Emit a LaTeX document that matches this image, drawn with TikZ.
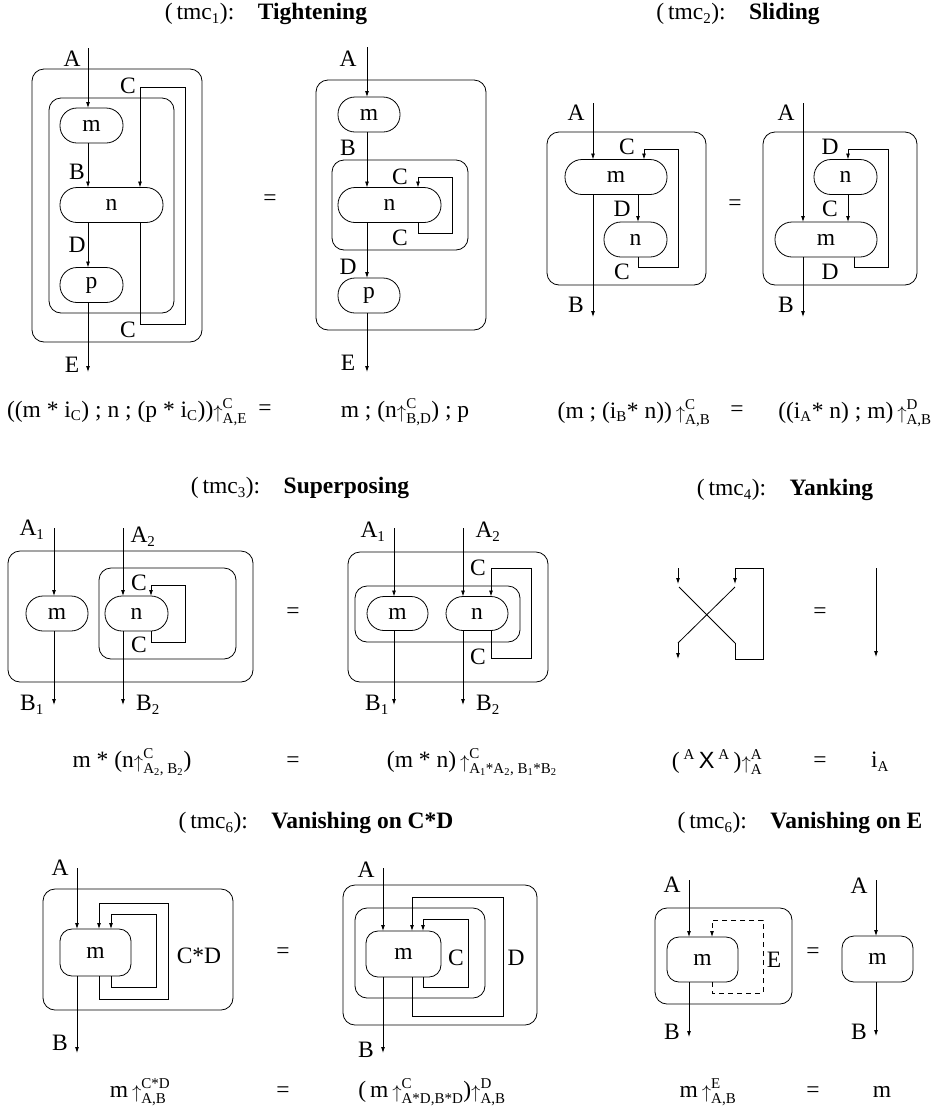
\documentclass[tikz,border=0pt]{standalone}
\usepackage{amsmath}
\usepackage{fontspec}
\setmainfont{Liberation Serif}
\setsansfont{Liberation Sans}
\usetikzlibrary{arrows.meta}
\DeclareMathSizes{23.5}{23.5}{15}{11}
\newcommand\lab{\fontsize{23.5}{27}\selectfont}
\newcommand\rs[2]{$\mathord{\raisebox{-1pt}{\scalebox{0.75}{$\uparrow$}}}^{\text{#1}}_{\text{#2}}$}
\tikzset{
  wir/.style={draw, line width=0.8pt, -{Latex[length=6pt,width=4pt]}},
  ln/.style={draw, line width=0.8pt},
  env/.style={draw, line width=0.8pt, rounded corners=12pt, rectangle, inner sep=0pt, outer sep=0pt},
  op/.style={draw, line width=0.8pt, rounded corners=17pt, rectangle, inner sep=0pt, outer sep=0pt, font=\lab},
  sq/.style={draw, line width=0.8pt, rounded corners=12pt, rectangle, inner sep=0pt, outer sep=0pt, font=\lab},
  lbl/.style={inner sep=0pt, font=\lab},
}
\begin{document}
\begin{tikzpicture}[x=1pt,y=-1pt]
\useasboundingbox (0,0) rectangle (933,1112);

% ================= titles
\node[lbl] (t1) at (266,14) {(\,tmc\textsubscript{1}):\quad\textbf{Tightening}};
\node[lbl] (t2) at (738,14) {(\,tmc\textsubscript{2}):\quad\textbf{Sliding}};
\node[lbl] (t3) at (300,488) {(\,tmc\textsubscript{3}):\quad\textbf{Superposing}};
\node[lbl] (t4) at (785,490) {(\,tmc\textsubscript{4}):\quad\textbf{Yanking}};
\node[lbl] (t5) at (316,823) {(\,tmc\textsubscript{6}):\quad\textbf{Vanishing on C*D}};
\node[lbl] (t6) at (800,823) {(\,tmc\textsubscript{6}):\quad\textbf{Vanishing on E}};

% ================= panel 1 : tightening left
\node[env, minimum width=170pt, minimum height=273pt] (o1) at (117,205.5) {};
\node[env, minimum width=125pt, minimum height=215pt] (i1) at (111.5,205.5) {};
\node[op, minimum width=63pt, minimum height=35pt] (m1) at (91.5,125.5) {m};
\node[op, minimum width=103pt, minimum height=35pt] (n1) at (111.5,205) {n};
\node[op, minimum width=63pt, minimum height=35pt] (p1) at (91.5,285) {p};
\coordinate (a1) at (88,48);
\coordinate (e1) at (88,372);
\draw[wir] (a1) -- (a1 |- m1.north);
\draw[wir] (a1 |- m1.south) -- (a1 |- n1.north);
\draw[wir] (a1 |- n1.south) -- (a1 |- p1.north);
\draw[wir] (a1 |- p1.south) -- (e1);
\coordinate (c1) at (140,87);
\draw[wir] (c1 |- n1.south) |- (185,324) |- (c1) -- (c1 |- n1.north);
\node[lbl] (la1) at (72,59) {A};
\node[lbl] (lb1) at (77,172) {B};
\node[lbl] (ld1) at (77,245) {D};
\node[lbl] (le1) at (72,365) {E};
\node[lbl] (lc1) at (128,86) {C};
\node[lbl] (lc1b) at (128,330) {C};
\node[lbl] (eq1) at (270,200) {=};

% ================= panel 2 : tightening right
\node[env, minimum width=170pt, minimum height=250pt] (o2) at (401,205) {};
\node[env, minimum width=136pt, minimum height=90pt] (i2) at (400,205) {};
\node[op, minimum width=62pt, minimum height=35pt] (m2) at (369,114.5) {m};
\node[op, minimum width=103pt, minimum height=35pt] (n2) at (389.5,205) {n};
\node[op, minimum width=62pt, minimum height=35pt] (p2) at (369,295.5) {p};
\coordinate (a2) at (367,47);
\coordinate (e2) at (367,372);
\draw[wir] (a2) -- (a2 |- m2.north);
\draw[wir] (a2 |- m2.south) -- (a2 |- n2.north);
\draw[wir] (a2 |- n2.south) -- (a2 |- p2.north);
\draw[wir] (a2 |- p2.south) -- (e2);
\coordinate (c2) at (418,177);
\draw[wir] (c2 |- n2.south) |- (452,233) |- (c2) -- (c2 |- n2.north);
\node[lbl] (la2) at (348,59) {A};
\node[lbl] (lb2) at (348,148) {B};
\node[lbl] (lc2) at (400,177) {C};
\node[lbl] (lc2b) at (400,238) {C};
\node[lbl] (ld2) at (348,267) {D};
\node[lbl] (le2) at (348,363) {E};

% ================= panel 3 : sliding left
\node[env, minimum width=159pt, minimum height=153pt] (o3) at (626.5,208.5) {};
\node[op, minimum width=102pt, minimum height=35pt] (m3) at (616,177) {m};
\node[op, minimum width=63pt, minimum height=35pt] (n3) at (635.5,239.5) {n};
\coordinate (a3) at (593,103);
\coordinate (b3) at (593,317);
\draw[wir] (a3) -- (a3 |- m3.north);
\draw[wir] (a3 |- m3.south) -- (b3);
\coordinate (d3) at (638,194);
\draw[wir] (d3 |- m3.south) -- (d3 |- n3.north);
\coordinate (c3) at (644,149);
\draw[wir] (d3 |- n3.south) |- (678,267) |- (c3) -- (c3 |- m3.north);
\node[lbl] (la3) at (576,113) {A};
\node[lbl] (lc3) at (627,147) {C};
\node[lbl] (ld3) at (622,209) {D};
\node[lbl] (lc3b) at (622,272) {C};
\node[lbl] (lb3) at (576,305) {B};
\node[lbl] (eq2) at (735,205) {=};

% ================= panel 4 : sliding right
\node[env, minimum width=154pt, minimum height=153pt] (o4) at (840,208.5) {};
\node[op, minimum width=63pt, minimum height=35pt] (n4) at (845.5,177) {n};
\node[op, minimum width=102pt, minimum height=35pt] (m4) at (826,239.5) {m};
\coordinate (a4) at (803,103);
\coordinate (b4) at (803,317);
\draw[wir] (a4) -- (a4 |- m4.north);
\draw[wir] (a4 |- m4.south) -- (b4);
\coordinate (c4) at (848,149);
\draw[wir] (c4 |- n4.south) -- (c4 |- m4.north);
\coordinate (d4) at (854,257);
\draw[wir] (d4 |- m4.south) |- (888,267) |- (c4) -- (c4 |- n4.north);
\node[lbl] (la4) at (786,113) {A};
\node[lbl] (ld4) at (830,147) {D};
\node[lbl] (lc4) at (830,209) {C};
\node[lbl] (ld4b) at (830,272) {D};
\node[lbl] (lb4) at (786,305) {B};

% ================= formulas row 1
\node[lbl] (f1) at (127,412) {((m * i\textsubscript{C}) ; n ; (p * i\textsubscript{C}))\rs{C}{A,E}};
\node[lbl] (f1e) at (265,410) {=};
\node[lbl] (f2) at (405,412) {m ; (n\rs{C}{B,D}) ; p};
\node[lbl] (f3) at (634,413) {(m ; (i\textsubscript{B}* n))\,\rs{C}{A,B}};
\node[lbl] (f3e) at (737,411) {=};
\node[lbl] (f4) at (855,413) {((i\textsubscript{A}* n) ; m)\,\rs{D}{A,B}};

% ================= panel 5 : superposing left
\node[env, minimum width=245pt, minimum height=131pt] (o5) at (130.5,616.5) {};
\node[env, minimum width=137pt, minimum height=91pt] (i5) at (167.5,613.5) {};
\node[op, minimum width=62pt, minimum height=35pt] (m5) at (57,613.5) {m};
\node[op, minimum width=63pt, minimum height=35pt] (n5) at (136.5,613.5) {n};
\coordinate (a51) at (54,528);
\coordinate (b51) at (54,705);
\coordinate (a52) at (123,528);
\coordinate (b52) at (123,705);
\draw[wir] (a51) -- (a51 |- m5.north);
\draw[wir] (a51 |- m5.south) -- (b51);
\draw[wir] (a52) -- (a52 |- n5.north);
\draw[wir] (a52 |- n5.south) -- (b52);
\coordinate (c5) at (151,585);
\draw[wir] (c5 |- n5.south) |- (185,642) |- (c5) -- (c5 |- n5.north);
\node[lbl] (la51) at (32,530) {A\textsubscript{1}};
\node[lbl] (la52) at (143,537) {A\textsubscript{2}};
\node[lbl] (lc5) at (139,583) {C};
\node[lbl] (lc5b) at (139,645) {C};
\node[lbl] (lb51) at (32,705) {B\textsubscript{1}};
\node[lbl] (lb52) at (148,705) {B\textsubscript{2}};
\node[lbl] (eq3) at (293,613) {=};

% ================= panel 6 : superposing right
\node[env, minimum width=200pt, minimum height=130pt] (o6) at (448,617) {};
\node[env, minimum width=165pt, minimum height=56pt] (i6) at (437.5,614) {};
\node[op, minimum width=61pt, minimum height=34pt] (m6) at (397.5,613.5) {m};
\node[op, minimum width=62pt, minimum height=34pt] (n6) at (477,613.5) {n};
\coordinate (a61) at (394,528);
\coordinate (b61) at (394,705);
\coordinate (a62) at (463,528);
\coordinate (b62) at (463,705);
\draw[wir] (a61) -- (a61 |- m6.north);
\draw[wir] (a61 |- m6.south) -- (b61);
\draw[wir] (a62) -- (a62 |- n6.north);
\draw[wir] (a62 |- n6.south) -- (b62);
\coordinate (c6) at (491,568);
\draw[wir] (c6 |- n6.south) |- (531,658) |- (c6) -- (c6 |- n6.north);
\node[lbl] (la61) at (373,532) {A\textsubscript{1}};
\node[lbl] (la62) at (488,532) {A\textsubscript{2}};
\node[lbl] (lc6) at (478,568) {C};
\node[lbl] (lc6b) at (478,657) {C};
\node[lbl] (lb61) at (377,705) {B\textsubscript{1}};
\node[lbl] (lb62) at (488,705) {B\textsubscript{2}};

% ================= yanking
\coordinate (y1) at (678,568);
\coordinate (y2) at (735,568);
\coordinate (y3) at (678,643);
\coordinate (y4) at (735,643);
\draw[wir] (y1) -- ++(0,16);
\draw[ln] (679,587) -- (y4);
\draw[wir] (y4) -- ++(0,16) -| (763,568) -- (y2) -- ++(0,16);
\draw[ln] (735,587) -- (y3);
\draw[wir] (y3) -- ++(0,16);
\node[lbl] (eq4) at (820,613) {=};
\coordinate (y5) at (876,568);
\draw[wir] (y5) -- (876,657);

% ================= formulas row 2
\node[lbl] (f5) at (132,762) {m * (n\rs{C}{A\textsubscript{2}, B\textsubscript{2}})};
\node[lbl] (f5e) at (293,762) {=};
\node[lbl] (f6) at (472,762) {(m * n)\,\rs{C}{A\textsubscript{1}*A\textsubscript{2}, B\textsubscript{1}*B\textsubscript{2}}};
\node[lbl] (f7) at (717,762) {(\,\textsuperscript{A}\,\textsf{X}\,\textsuperscript{A}\,)\rs{A}{A}};
\node[lbl] (f7e) at (820,762) {=};
\node[lbl] (f8) at (880,762) {i\textsubscript{A}};

% ================= panel 7 : vanishing C*D left
\node[env, minimum width=190pt, minimum height=121pt] (o7) at (138,949.5) {};
\node[sq, minimum width=71pt, minimum height=47pt] (m7) at (95.5,952.5) {m};
\coordinate (a7) at (77,868);
\coordinate (b7) at (77,1053);
\draw[wir] (a7) -- (a7 |- m7.north);
\draw[wir] (a7 |- m7.south) -- (b7);
\coordinate (c71) at (99,903);
\coordinate (c72) at (111,914);
\draw[wir] (c71 |- m7.south) |- (168,999) |- (c71) -- (c71 |- m7.north);
\draw[wir] (c72 |- m7.south) |- (156,987) |- (c72) -- (c72 |- m7.north);
\node[lbl] (l7) at (199,956) {C*D};
\node[lbl] (la7) at (60,868) {A};
\node[lbl] (lb7) at (60,1043) {B};
\node[lbl] (eq5) at (283,953) {=};

% ================= panel 8 : vanishing C*D right
\node[env, minimum width=194pt, minimum height=140pt] (o8) at (440,955) {};
\node[env, minimum width=130pt, minimum height=90pt] (i8) at (420,953) {};
\node[sq, minimum width=75pt, minimum height=46pt] (m8) at (403.5,954) {m};
\coordinate (a8) at (383,868);
\coordinate (b8) at (383,1053);
\draw[wir] (a8) -- (a8 |- m8.north);
\draw[wir] (a8 |- m8.south) -- (b8);
\coordinate (c81) at (412,897);
\coordinate (c82) at (423,919);
\draw[wir] (c81 |- m8.south) |- (503,1016) |- (c81) -- (c81 |- m8.north);
\draw[wir] (c82 |- m8.south) |- (468,987) |- (c82) -- (c82 |- m8.north);
\node[lbl] (lc8) at (456,958) {C};
\node[lbl] (ld8) at (516,958) {D};
\node[lbl] (la8) at (366,870) {A};
\node[lbl] (lb8) at (366,1050) {B};

% ================= panel 9 : vanishing E
\node[env, minimum width=137pt, minimum height=96pt] (o9) at (723.5,956) {};
\node[sq, minimum width=71pt, minimum height=45pt] (m9) at (702.5,959.5) {m};
\coordinate (a9) at (689,880);
\coordinate (b9) at (689,1037);
\draw[wir] (a9) -- (a9 |- m9.north);
\draw[wir] (a9 |- m9.south) -- (b9);
\coordinate (c9) at (712,920);
\draw[wir, dash pattern=on 5pt off 4pt] (c9 |- m9.south) |- (763,993) |- (c9) -- (c9 |- m9.north);
\node[lbl] (le9) at (774,960) {E};
\node[lbl] (la9) at (672,885) {A};
\node[lbl] (lb9) at (672,1032) {B};
\node[lbl] (eq6) at (813,953) {=};
\node[sq, minimum width=71pt, minimum height=46pt] (m10) at (877.5,959) {m};
\coordinate (a10) at (876,880);
\coordinate (b10) at (876,1036);
\draw[wir] (a10) -- (a10 |- m10.north);
\draw[wir] (a10 |- m10.south) -- (b10);
\node[lbl] (la10) at (859,886) {A};
\node[lbl] (lb10) at (859,1032) {B};

% ================= formulas row 3
\node[lbl] (f9) at (140,1092) {m\,\rs{C*D}{A,B}};
\node[lbl] (f9e) at (283,1092) {=};
\node[lbl] (f10) at (432,1092) {(\,m\,\rs{C}{A*D,B*D})\rs{D}{A,B}};
\node[lbl] (f11) at (708,1092) {m\,\rs{E}{A,B}};
\node[lbl] (f11e) at (813,1092) {=};
\node[lbl] (f12) at (882,1092) {m};
\end{tikzpicture}
\end{document}
